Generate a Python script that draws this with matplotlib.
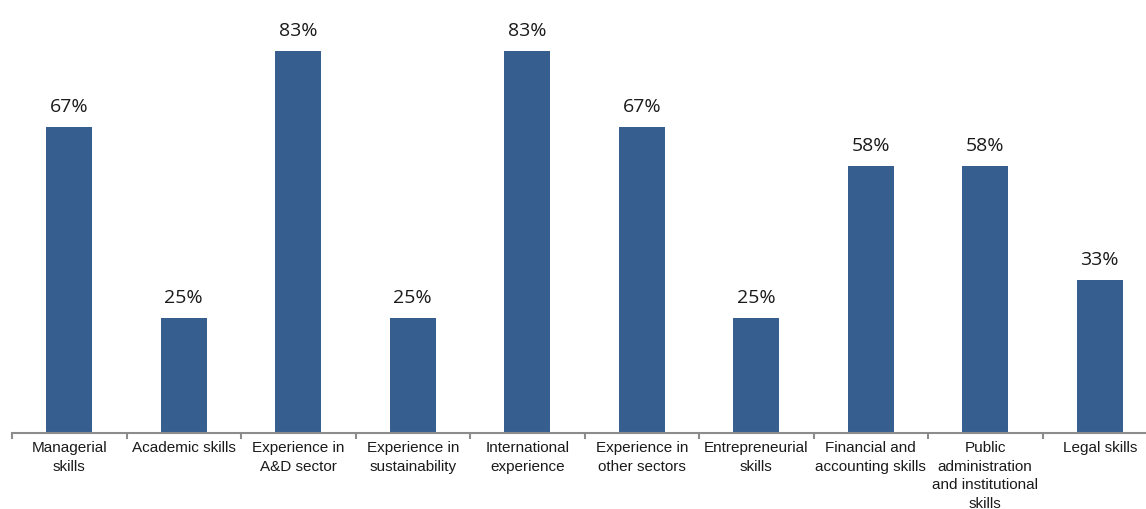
import matplotlib
matplotlib.use("Agg")
import matplotlib.pyplot as plt
from matplotlib.ticker import FixedLocator

categories = ["Managerial\nskills", "Academic skills", "Experience in\nA&D sector",
              "Experience in\nsustainability", "International\nexperience",
              "Experience in\nother sectors", "Entrepreneurial\nskills",
              "Financial and\naccounting skills",
              "Public\nadministration\nand institutional\nskills", "Legal skills"]
values = [66.7, 25.0, 83.3, 25.0, 83.3, 66.7, 25.0, 58.3, 58.3, 33.3]

W, H = 1146, 509
fig = plt.figure(figsize=(W / 100, H / 100), dpi=100)
left_px, base_px, cat_px = 12, 433, 114.5
ax = fig.add_axes([left_px / W, (H - base_px) / H, (W - left_px) / W, base_px / H])

x = list(range(len(values)))
bars = ax.bar(x, values, width=0.4, color="#365F8F", zorder=2)
for xi, v in zip(x, values):
    ax.annotate(f"{round(v)}%", (xi, v), xytext=(0, 10.8), textcoords="offset points",
                ha="center", va="baseline", fontsize=14, family="Open Sans", color="#1a1a1a")

ax.set_xlim(-0.5, -0.5 + (W - left_px) / cat_px)
ax.set_ylim(0, 83.3 * base_px / (433 - 51))

for s in ["top", "right", "left"]:
    ax.spines[s].set_visible(False)
ax.spines["bottom"].set_color("#8c8c8c")
ax.spines["bottom"].set_linewidth(1.5)
ax.set_yticks([])
ax.set_xticks(x)
ax.set_xticklabels(categories, fontsize=11, family="Liberation Sans", color="#1a1a1a",
                   linespacing=1.4)
ax.tick_params(axis="x", which="major", length=0, pad=6)
ax.xaxis.set_minor_locator(FixedLocator([i - 0.5 for i in range(len(values))]))
ax.tick_params(axis="x", which="minor", length=4, width=1.5, color="#8c8c8c", direction="out")

fig.savefig("out.png", dpi=100)
